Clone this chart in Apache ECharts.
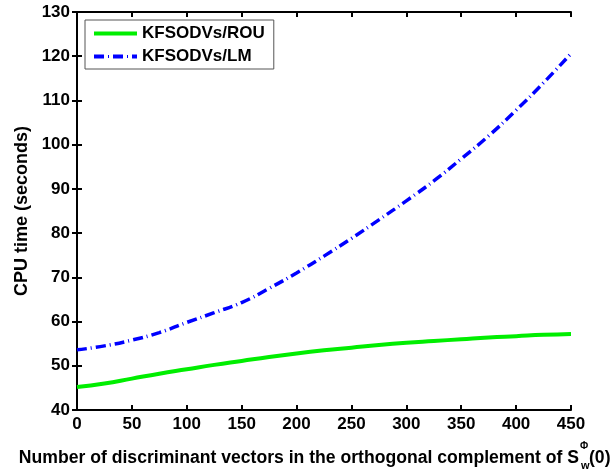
<!DOCTYPE html>
<html><head><meta charset="utf-8">
<script src="https://cdn.jsdelivr.net/npm/echarts@6/dist/echarts.min.js"></script>
<style>html,body{margin:0;padding:0;background:#fff}#c{width:612px;height:473px}</style>
</head><body><div id="c"></div>
<script>
var xValues = [0,25,50,75,100,125,150,175,200,225,250,275,300,325,350,375,400,425,450];
var rouTimes = [45.2,46.0,47.1,48.2,49.2,50.2,51.1,52.0,52.8,53.5,54.1,54.7,55.2,55.6,56.0,56.4,56.7,57.0,57.2];
var lmTimes = [53.6,54.5,55.8,57.5,59.8,62.0,64.3,67.5,71.0,74.8,78.8,83.0,87.3,91.8,96.8,102.0,107.8,114.0,120.6];
var seriesNames = ['KFSODVs/ROU','KFSODVs/LM'];
var xTicks = {min:0,max:450,interval:50};
var yTicks = {min:40,max:130,interval:10};

var FONT = 'Liberation Sans, Arial, sans-serif';
var chart = echarts.init(document.getElementById('c'));
function pairs(ys){return xValues.map(function(x,i){return [x,ys[i]];});}
var lbl = {color:'#000',fontWeight:'bold',fontSize:17,fontFamily:FONT};
var axLine = {lineStyle:{color:'#000',width:2}};
var axTick = {inside:true,length:5,lineStyle:{color:'#000',width:2}};
chart.setOption({
  animation:false,
  grid:{left:77,right:41,top:12,bottom:63,containLabel:false},
  xAxis:[{type:'value',min:xTicks.min,max:xTicks.max,interval:xTicks.interval,
     axisLine:axLine,axisTick:axTick,
     axisLabel:Object.assign({margin:6},lbl),splitLine:{show:false}},
   {type:'value',position:'top',min:xTicks.min,max:xTicks.max,interval:xTicks.interval,
     axisLine:axLine,axisTick:axTick,axisLabel:{show:false},splitLine:{show:false}}],
  yAxis:[{type:'value',min:yTicks.min,max:yTicks.max,interval:yTicks.interval,
     name:'CPU time (seconds)',nameLocation:'middle',nameGap:46,
     nameTextStyle:{color:'#000',fontWeight:'bold',fontSize:18,fontFamily:FONT},
     axisLine:axLine,axisTick:axTick,
     axisLabel:Object.assign({margin:7},lbl),splitLine:{show:false}},
   {type:'value',position:'right',min:yTicks.min,max:yTicks.max,interval:yTicks.interval,
     axisLine:axLine,axisTick:axTick,axisLabel:{show:false},splitLine:{show:false}}],
  legend:{show:true,left:85,top:20,orient:'vertical',itemGap:6,itemWidth:43,itemHeight:14,
     padding:[5,9,4,9],borderColor:'#555',borderWidth:1,backgroundColor:'#fff',
     textStyle:{color:'#000',fontWeight:'bold',fontSize:17,fontFamily:FONT},
     data:[{name:seriesNames[0],icon:'path://M0,5L43,5L43,9L0,9Z'},{name:seriesNames[1],icon:'path://M0,5L10,5L10,9L0,9ZM14,5.5L15,5.5L15,8.5L14,8.5ZM19,5L29,5L29,9L19,9ZM33,5.5L34,5.5L34,8.5L33,8.5ZM38,5L43,5L43,9L38,9Z'}]},
  series:[
   {name:seriesNames[0],type:'line',data:pairs(rouTimes),smooth:true,showSymbol:false,
    itemStyle:{color:'#00ee00'},lineStyle:{color:'#00ee00',width:4}},
   {name:seriesNames[1],type:'line',data:pairs(lmTimes),smooth:true,showSymbol:false,
    itemStyle:{color:'#0000ff'},lineStyle:{color:'#0000ff',width:3.5,type:[10,4,1,4]}}
  ],
  graphic:[
   {type:'text',x:579,y:458,style:{text:'Number of discriminant vectors in the orthogonal complement of S',fill:'#000',font:'bold 17.6px '+FONT,textAlign:'right',textVerticalAlign:'middle'}},
   {type:'text',x:580,y:446,style:{text:'\u03A6',fill:'#000',font:'bold 10px '+FONT,textVerticalAlign:'middle'}},
   {type:'text',x:581,y:466,style:{text:'w',fill:'#000',font:'bold 11px '+FONT,textVerticalAlign:'middle'}},
   {type:'text',x:589,y:458,style:{text:'(0)',fill:'#000',font:'bold 17.6px '+FONT,textVerticalAlign:'middle'}}
  ]
});
</script></body></html>
